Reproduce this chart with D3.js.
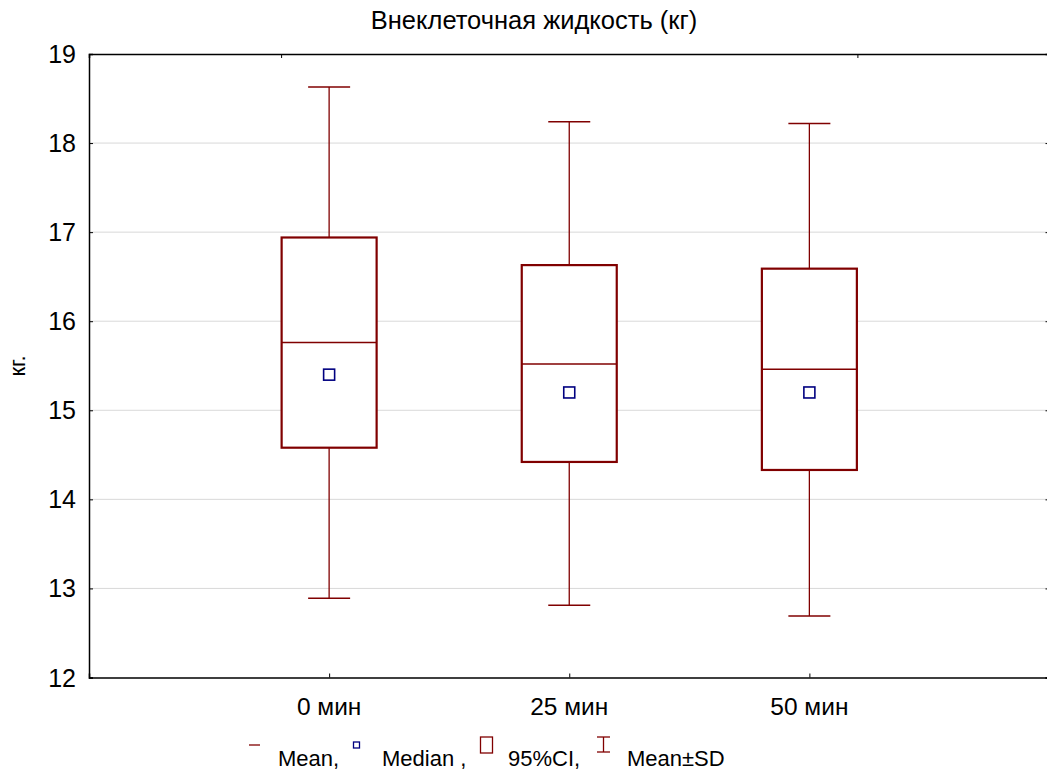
<!DOCTYPE html>
<html><head><meta charset="utf-8">
<script src="https://cdn.jsdelivr.net/npm/d3@7"></script>
<style>body{margin:0;background:#fff}svg{display:block}text{font-family:"Liberation Sans",Arial,sans-serif;fill:#000}</style>
</head><body>
<svg id="c" width="1047" height="775"></svg>
<script>
const categories = ["0 мин", "25 мин", "50 мин"];
const means   = [15.76, 15.52, 15.46];
const medians = [15.40, 15.20, 15.20];
const ciLow   = [14.58, 14.42, 14.33];
const ciHigh  = [16.94, 16.63, 16.59];
const sdLow   = [12.89, 12.81, 12.69];
const sdHigh  = [18.63, 18.24, 18.22];
const yTicks  = [12, 13, 14, 15, 16, 17, 18, 19];
const topTicks = [0.8, 3.2];
const title = "Внеклеточная жидкость (кг)";
const yLabel = "кг.";
const legendItems = ["Mean,", "Median ,", "95%CI,", "Mean±SD"];

const svg = d3.select("#c");
const L = 89, T = 54, B = 677.5, R = 1049.5;
const x = d3.scaleLinear().domain([0, 4]).range([L, R]);
const y = d3.scaleLinear().domain([12, 19]).range([B, T]);
const red = "#800000", blue = "#000080";

// gridlines
svg.append("g").selectAll("line").data(yTicks.slice(1, -1)).join("line")
  .attr("x1", L).attr("x2", R).attr("y1", d => y(d)).attr("y2", d => y(d))
  .attr("stroke", "#d9d9d9").attr("stroke-width", 1);

// axes
const gl = svg.append("g").attr("transform", `translate(${L},0)`)
  .call(d3.axisRight(y).tickValues(yTicks).tickSize(4).tickFormat(""));
const gb = svg.append("g").attr("transform", `translate(0,${B})`)
  .call(d3.axisTop(x).tickValues([1, 2, 3]).tickSize(4).tickFormat(""));
const gt = svg.append("g").attr("transform", `translate(0,${T})`)
  .call(d3.axisBottom(x).tickValues(topTicks).tickSize(4).tickFormat(""));
const gr = svg.append("g").attr("transform", `translate(${R},0)`)
  .call(d3.axisLeft(y).tickValues(yTicks).tickSize(4).tickFormat(""));
[gl, gb, gt, gr].forEach(g => {
  g.select(".domain").attr("stroke", "#000").attr("stroke-width", 1.5);
  g.selectAll(".tick line").attr("stroke", "#000");
});

// y tick labels
svg.append("g").selectAll("text").data(yTicks).join("text")
  .attr("x", L - 13).attr("y", d => y(d)).attr("dy", "0.36em")
  .attr("text-anchor", "end").style("font-size", "25px").text(d => d);

// x tick labels
svg.append("g").selectAll("text").data(categories).join("text")
  .attr("x", (d, i) => x(i + 1)).attr("y", 715)
  .attr("text-anchor", "middle").style("font-size", "24.5px").text(d => d);

// title & y label
svg.append("text").attr("x", 534).attr("y", 29).attr("text-anchor", "middle")
  .style("font-size", "25.5px").text(title);
svg.append("text").attr("transform", `translate(25,366) rotate(-90)`)
  .attr("text-anchor", "middle").style("font-size", "22px").text(yLabel);

// boxes
const bw = 95, cw = 42, ms = 11;
const g = svg.append("g");
categories.forEach((c, i) => {
  const cx = x(i + 1);
  g.append("line").attr("x1", cx).attr("x2", cx).attr("y1", y(sdHigh[i])).attr("y2", y(ciHigh[i]))
    .attr("stroke", red).attr("stroke-width", 1.3);
  g.append("line").attr("x1", cx).attr("x2", cx).attr("y1", y(ciLow[i])).attr("y2", y(sdLow[i]))
    .attr("stroke", red).attr("stroke-width", 1.3);
  [sdHigh[i], sdLow[i]].forEach(v => g.append("line")
    .attr("x1", cx - cw / 2).attr("x2", cx + cw / 2).attr("y1", y(v)).attr("y2", y(v))
    .attr("stroke", red).attr("stroke-width", 1.5));
  g.append("rect").attr("x", cx - bw / 2).attr("y", y(ciHigh[i])).attr("width", bw)
    .attr("height", y(ciLow[i]) - y(ciHigh[i])).attr("fill", "#fff")
    .attr("stroke", red).attr("stroke-width", 2.2);
  g.append("line").attr("x1", cx - bw / 2).attr("x2", cx + bw / 2).attr("y1", y(means[i])).attr("y2", y(means[i]))
    .attr("stroke", red).attr("stroke-width", 1.5);
  g.append("rect").attr("x", cx - ms / 2).attr("y", y(medians[i]) - ms / 2).attr("width", ms).attr("height", ms)
    .attr("fill", "#fff").attr("stroke", blue).attr("stroke-width", 1.6);
});

// legend
const lg = svg.append("g");
const ly = 766;
lg.append("line").attr("x1", 249).attr("x2", 260).attr("y1", 745).attr("y2", 745).attr("stroke", red).attr("stroke-width", 1.3);
lg.append("rect").attr("x", 353.5).attr("y", 742).attr("width", 6).attr("height", 6).attr("fill", "#fff").attr("stroke", blue).attr("stroke-width", 1.3);
lg.append("rect").attr("x", 480.5).attr("y", 737).attr("width", 12).attr("height", 16).attr("fill", "#fff").attr("stroke", red).attr("stroke-width", 1.3);
lg.append("line").attr("x1", 597).attr("x2", 610).attr("y1", 737).attr("y2", 737).attr("stroke", red).attr("stroke-width", 1.3);
lg.append("line").attr("x1", 597).attr("x2", 610).attr("y1", 752).attr("y2", 752).attr("stroke", red).attr("stroke-width", 1.3);
lg.append("line").attr("x1", 603.5).attr("x2", 603.5).attr("y1", 737).attr("y2", 752).attr("stroke", red).attr("stroke-width", 1.3);
const lx = [278, 382, 508, 627];
lg.selectAll("text").data(legendItems).join("text")
  .attr("x", (d, i) => lx[i]).attr("y", ly).style("font-size", "22px").text(d => d);
</script>
</body></html>
